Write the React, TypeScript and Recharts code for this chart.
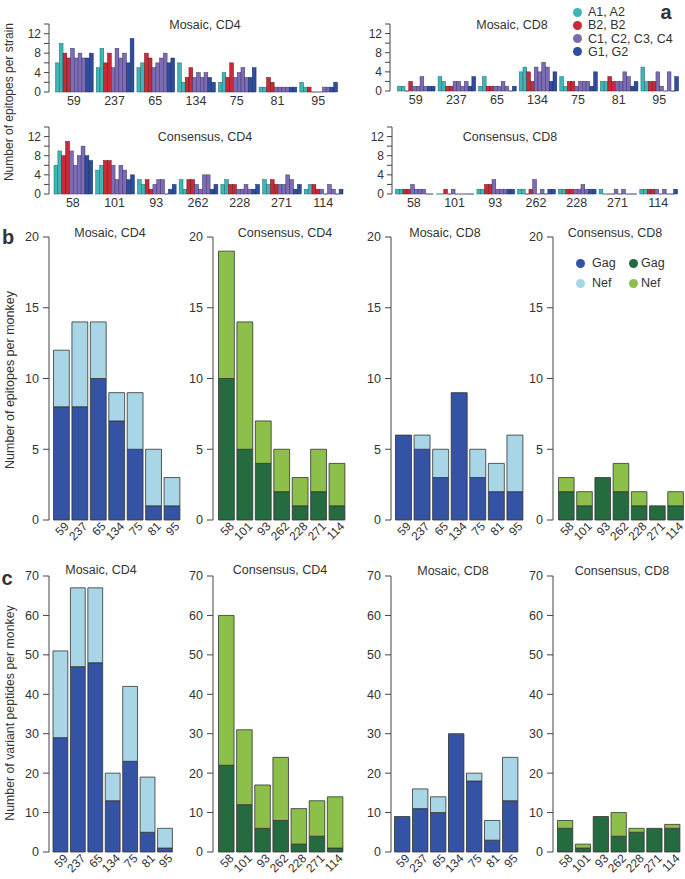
import React from "react";
import { BarChart, Bar, XAxis, YAxis } from "recharts";

const FONT = '"Liberation Sans", Arial, Helvetica, sans-serif';
const INK = "#333";
const AXIS = "#444";

// monkeys per vaccine group
const mosaicMonkeys = ["59", "237", "65", "134", "75", "81", "95"];
const consensusMonkeys = ["58", "101", "93", "262", "228", "271", "114"];

// panel a: epitopes per strain (columns A1 A2 B1 B2 C1 C2 C3 C4 G1 G2, one row per monkey)
const strainKeys = ["A1", "A2", "B1", "B2", "C1", "C2", "C3", "C4", "G1", "G2"];
const strainFills = ["#3fb5b6", "#3fb5b6", "#c82a38", "#c82a38", "#7d6cb4", "#7d6cb4", "#7d6cb4", "#7d6cb4", "#2f4d9f", "#2f4d9f"];
const strainEdges = ["#1d6d70", "#1d6d70", "#6e141c", "#6e141c", "#3f3570", "#3f3570", "#3f3570", "#3f3570", "#1a2b60", "#1a2b60"];
const legendStrainLabels = ["A1, A2", "B2, B2", "C1, C2, C3, C4", "G1, G2"];
const legendStrainColors = ["#3fb5b6", "#c82a38", "#7d6cb4", "#2f4d9f"];

const mosaicCD4Strain = [
  [6, 10, 8, 7, 9, 7, 8, 7, 7, 8],
  [5, 9, 6, 8, 5, 9, 7, 8, 6, 11],
  [5, 6, 8, 7, 5, 6, 7, 8, 6, 7],
  [6, 2, 3, 5, 3, 4, 3, 4, 3, 2],
  [2, 4, 3, 6, 3, 4, 5, 3, 3, 5],
  [1, 1, 3, 2, 1, 1, 1, 1, 1, 1],
  [2, 1, 1, 0, 0, 0, 1, 1, 1, 2],
];
const consensusCD4Strain = [
  [6, 9, 8, 11, 9, 6, 8, 10, 8, 7],
  [5, 6, 7, 7, 6, 3, 6, 5, 3, 4],
  [3, 2, 3, 1, 2, 3, 3, 0, 1, 2],
  [3, 1, 3, 3, 2, 1, 4, 4, 1, 2],
  [2, 3, 2, 2, 1, 1, 2, 1, 1, 2],
  [3, 2, 3, 2, 2, 2, 4, 3, 1, 2],
  [1, 2, 2, 1, 1, 0, 2, 1, 0, 1],
];
const mosaicCD8Strain = [
  [1, 1, 0, 2, 1, 1, 3, 1, 1, 1],
  [3, 2, 1, 1, 2, 2, 1, 2, 1, 3],
  [1, 3, 1, 1, 1, 1, 2, 1, 0, 1],
  [4, 5, 4, 2, 5, 4, 6, 5, 2, 4],
  [3, 1, 2, 2, 1, 2, 2, 2, 1, 4],
  [2, 2, 3, 2, 2, 2, 4, 3, 1, 2],
  [5, 2, 2, 2, 4, 1, 0, 4, 0, 3],
];
const consensusCD8Strain = [
  [1, 1, 1, 1, 2, 1, 1, 1, 0, 0],
  [0, 0, 1, 0, 1, 0, 0, 0, 0, 0],
  [1, 1, 2, 2, 3, 1, 1, 1, 1, 1],
  [1, 1, 0, 1, 3, 0, 1, 0, 1, 1],
  [1, 1, 1, 1, 1, 1, 2, 1, 1, 1],
  [1, 0, 0, 0, 1, 0, 1, 0, 0, 0],
  [1, 1, 1, 1, 1, 0, 1, 0, 0, 1],
];

// panel b: epitopes per monkey
const epiMosaicCD4Gag = [8, 8, 10, 7, 5, 1, 1];
const epiMosaicCD4Nef = [4, 6, 4, 2, 4, 4, 2];
const epiConsensusCD4Gag = [10, 5, 4, 2, 1, 2, 1];
const epiConsensusCD4Nef = [9, 9, 3, 3, 2, 3, 3];
const epiMosaicCD8Gag = [6, 5, 3, 9, 3, 2, 2];
const epiMosaicCD8Nef = [0, 1, 2, 0, 2, 2, 4];
const epiConsensusCD8Gag = [2, 1, 3, 2, 1, 1, 1];
const epiConsensusCD8Nef = [1, 1, 0, 2, 1, 0, 1];

// panel c: variant peptides per monkey
const varMosaicCD4Gag = [29, 47, 48, 13, 23, 5, 1];
const varMosaicCD4Nef = [22, 20, 19, 7, 19, 14, 5];
const varConsensusCD4Gag = [22, 12, 6, 8, 2, 4, 1];
const varConsensusCD4Nef = [38, 19, 11, 16, 9, 9, 13];
const varMosaicCD8Gag = [9, 11, 10, 30, 18, 3, 13];
const varMosaicCD8Nef = [0, 5, 4, 0, 2, 5, 11];
const varConsensusCD8Gag = [6, 1, 9, 4, 5, 6, 6];
const varConsensusCD8Nef = [2, 1, 0, 6, 1, 0, 1];

const strainTicks = [0, 2, 4, 6, 8, 10, 12, 14];
const epitopeTicks = [0, 5, 10, 15, 20];
const variantTicks = [0, 10, 20, 30, 40, 50, 60, 70];

const mosaicColors = ["#3553a4", "#a9d6e6"];
const consensusColors = ["#256b40", "#8cc04b"];

type Box = { axisX: number; bandStart: number; bandEnd: number; yTop: number; yZero: number };

const Y_W = 40;
const TOP = 8;

function frame(box: Box, xH: number) {
  return {
    style: { position: "absolute" as const, left: box.axisX - Y_W, top: box.yTop - TOP },
    width: box.bandEnd - box.axisX + Y_W,
    height: box.yZero - box.yTop + TOP + xH,
    padLeft: box.bandStart - box.axisX,
    band: (box.bandEnd - box.bandStart) / 7,
  };
}

const yTick = { fontSize: 12, fill: INK, fontFamily: FONT };

// zero counts still show as a flat outline on the baseline
const strainShape = (fill: string, edge: string) => (p: any) => {
  let { x, y, width, height } = p;
  if (height < 0) {
    y += height;
    height = -height;
  }
  if (!height) return <line x1={x} x2={x + width} y1={y} y2={y} stroke={edge} strokeWidth={0.9} />;
  return <rect x={x} y={y} width={width} height={height} fill={fill} stroke={edge} strokeWidth={0.5} />;
};

function StrainChart({ monkeys, values, box }: { monkeys: string[]; values: number[][]; box: Box }) {
  const rows = monkeys.map((m, i) => {
    const r: any = { monkey: m };
    strainKeys.forEach((k, j) => (r[k] = values[i][j]));
    return r;
  });
  const f = frame(box, 20);
  const barW = (f.band - 3) / strainKeys.length;
  return (
    <div style={f.style}>
      <BarChart width={f.width} height={f.height} data={rows} margin={{ top: TOP, right: 0, bottom: 0, left: 0 }} barGap={0} barSize={barW}>
        <XAxis
          dataKey="monkey"
          axisLine={false}
          tickLine={false}
          tickSize={0}
          tickMargin={4}
          height={20}
          interval={0}
          padding={{ left: f.padLeft, right: 0 }}
          tick={{ fontSize: 12.5, fill: INK, fontFamily: FONT }}
        />
        <YAxis
          domain={[0, 14]}
          ticks={strainTicks}
          interval={0}
          width={Y_W}
          tickSize={5}
          tickMargin={3}
          stroke={AXIS}
          tick={yTick}
          tickFormatter={(v: number) => (v % 4 === 0 && v < 14 ? String(v) : "")}
        />
        {strainKeys.map((k, j) => (
          <Bar key={k} dataKey={k} barSize={barW} isAnimationActive={false} shape={strainShape(strainFills[j], strainEdges[j])} />
        ))}
      </BarChart>
    </div>
  );
}

function SlantTick(props: any) {
  const { x, y, payload } = props;
  return (
    <g transform={`translate(${x + 5},${y + 4})`}>
      <text transform="rotate(-45)" textAnchor="end" dy="0.35em" fontSize={12} fill={INK} fontFamily={FONT}>
        {payload.value}
      </text>
    </g>
  );
}

function StackChart(props: { monkeys: string[]; gag: number[]; nef: number[]; colors: string[]; ticks: number[]; box: Box }) {
  const { monkeys, gag, nef, colors, ticks, box } = props;
  const rows = monkeys.map((m, i) => ({ monkey: m, gag: gag[i], nef: nef[i] }));
  const f = frame(box, 30);
  const barW = f.band - 2.6;
  return (
    <div style={f.style}>
      <BarChart width={f.width} height={f.height} data={rows} margin={{ top: TOP, right: 0, bottom: 0, left: 0 }} barSize={barW}>
        <XAxis
          dataKey="monkey"
          axisLine={false}
          tickLine={false}
          tickSize={0}
          tickMargin={0}
          height={30}
          interval={0}
          padding={{ left: f.padLeft, right: 0 }}
          tick={<SlantTick />}
        />
        <YAxis
          domain={[0, ticks[ticks.length - 1]]}
          ticks={ticks}
          interval={0}
          width={Y_W}
          tickSize={6}
          tickMargin={4}
          stroke={AXIS}
          tick={{ ...yTick, fontSize: 12.5 }}
        />
        <Bar dataKey="gag" stackId="s" fill={colors[0]} stroke="#333" strokeWidth={0.8} isAnimationActive={false} />
        <Bar dataKey="nef" stackId="s" fill={colors[1]} stroke="#333" strokeWidth={0.8} isAnimationActive={false} />
      </BarChart>
    </div>
  );
}

function Text(props: { x: number; y: number; children: React.ReactNode; size?: number; bold?: boolean; rotate?: number }) {
  const { x, y, children, size = 12.5, bold = false, rotate = 0 } = props;
  return (
    <div
      style={{
        position: "absolute",
        left: x,
        top: y,
        transform: `translate(-50%, -50%) rotate(${rotate}deg)`,
        fontSize: size,
        fontWeight: bold ? 700 : 400,
        fontFamily: FONT,
        color: INK,
        whiteSpace: "nowrap",
        lineHeight: 1,
      }}
    >
      {children}
    </div>
  );
}

function Dot({ x, y, color }: { x: number; y: number; color: string }) {
  return (
    <div style={{ position: "absolute", left: x - 4.5, top: y - 4.5, width: 9, height: 9, borderRadius: "50%", background: color }} />
  );
}

function LeftText({ x, y, children }: { x: number; y: number; children: React.ReactNode }) {
  return (
    <div style={{ position: "absolute", left: x, top: y, transform: "translateY(-50%)", fontSize: 12.5, fontFamily: FONT, color: INK, whiteSpace: "nowrap", lineHeight: 1 }}>
      {children}
    </div>
  );
}

export default function App() {
  const bTop = 237, bZero = 520;
  const cTop = 576, cZero = 852;
  return (
    <div style={{ position: "absolute", left: 0, top: 0, width: 685, height: 879, background: "#fff", overflow: "hidden" }}>
      {/* panel a */}
      <StrainChart monkeys={mosaicMonkeys} values={mosaicCD4Strain} box={{ axisX: 49, bandStart: 53.5, bandEnd: 338.5, yTop: 24, yZero: 92 }} />
      <StrainChart monkeys={consensusMonkeys} values={consensusCD4Strain} box={{ axisX: 49, bandStart: 52, bandEnd: 344, yTop: 127, yZero: 194 }} />
      <StrainChart monkeys={mosaicMonkeys} values={mosaicCD8Strain} box={{ axisX: 390, bandStart: 395.5, bandEnd: 679.5, yTop: 24, yZero: 91 }} />
      <StrainChart monkeys={consensusMonkeys} values={consensusCD8Strain} box={{ axisX: 392, bandStart: 393.5, bandEnd: 678.5, yTop: 127, yZero: 194 }} />
      <Text x={205} y={25}>Mosaic, CD4</Text>
      <Text x={205} y={137}>Consensus, CD4</Text>
      <Text x={512} y={25}>Mosaic, CD8</Text>
      <Text x={510} y={137}>Consensus, CD8</Text>
      <Text x={9} y={102} size={12} rotate={-90}>Number of epitopes per strain</Text>
      {legendStrainLabels.map((l, i) => (
        <React.Fragment key={l}>
          <Dot x={577} y={12 + i * 13.3} color={legendStrainColors[i]} />
          <LeftText x={588} y={12 + i * 13.3}>{l}</LeftText>
        </React.Fragment>
      ))}
      <Text x={666} y={12} size={20} bold>a</Text>

      {/* panel b */}
      <StackChart monkeys={mosaicMonkeys} gag={epiMosaicCD4Gag} nef={epiMosaicCD4Nef} colors={mosaicColors} ticks={epitopeTicks} box={{ axisX: 49, bandStart: 52.5, bandEnd: 181.5, yTop: bTop, yZero: bZero }} />
      <StackChart monkeys={consensusMonkeys} gag={epiConsensusCD4Gag} nef={epiConsensusCD4Nef} colors={consensusColors} ticks={epitopeTicks} box={{ axisX: 213, bandStart: 217.5, bandEnd: 346.5, yTop: bTop, yZero: bZero }} />
      <StackChart monkeys={mosaicMonkeys} gag={epiMosaicCD8Gag} nef={epiMosaicCD8Nef} colors={mosaicColors} ticks={epitopeTicks} box={{ axisX: 391, bandStart: 394.5, bandEnd: 524.5, yTop: bTop, yZero: bZero }} />
      <StackChart monkeys={consensusMonkeys} gag={epiConsensusCD8Gag} nef={epiConsensusCD8Nef} colors={consensusColors} ticks={epitopeTicks} box={{ axisX: 553, bandStart: 557.5, bandEnd: 685, yTop: bTop, yZero: bZero }} />
      <Text x={110} y={233}>Mosaic, CD4</Text>
      <Text x={285} y={233}>Consensus, CD4</Text>
      <Text x={445} y={233}>Mosaic, CD8</Text>
      <Text x={615} y={233}>Consensus, CD8</Text>
      <Text x={10} y={380} size={12.5} rotate={-90}>Number of epitopes per monkey</Text>
      <Dot x={580} y={263} color={mosaicColors[0]} />
      <LeftText x={592} y={263}>Gag</LeftText>
      <Dot x={580} y={283} color={mosaicColors[1]} />
      <LeftText x={592} y={283}>Nef</LeftText>
      <Dot x={633} y={263} color={consensusColors[0]} />
      <LeftText x={641} y={263}>Gag</LeftText>
      <Dot x={633} y={283} color={consensusColors[1]} />
      <LeftText x={641} y={283}>Nef</LeftText>
      <Text x={8} y={237} size={20} bold>b</Text>

      {/* panel c */}
      <StackChart monkeys={mosaicMonkeys} gag={varMosaicCD4Gag} nef={varMosaicCD4Nef} colors={mosaicColors} ticks={variantTicks} box={{ axisX: 49, bandStart: 52, bandEnd: 174, yTop: cTop, yZero: cZero }} />
      <StackChart monkeys={consensusMonkeys} gag={varConsensusCD4Gag} nef={varConsensusCD4Nef} colors={consensusColors} ticks={variantTicks} box={{ axisX: 213, bandStart: 217.5, bandEnd: 344.5, yTop: cTop, yZero: cZero }} />
      <StackChart monkeys={mosaicMonkeys} gag={varMosaicCD8Gag} nef={varMosaicCD8Nef} colors={mosaicColors} ticks={variantTicks} box={{ axisX: 391, bandStart: 393.5, bandEnd: 519.5, yTop: cTop, yZero: cZero }} />
      <StackChart monkeys={consensusMonkeys} gag={varConsensusCD8Gag} nef={varConsensusCD8Nef} colors={consensusColors} ticks={variantTicks} box={{ axisX: 553, bandStart: 556.5, bandEnd: 681.5, yTop: cTop, yZero: cZero }} />
      <Text x={101} y={570}>Mosaic, CD4</Text>
      <Text x={280} y={570}>Consensus, CD4</Text>
      <Text x={453} y={571}>Mosaic, CD8</Text>
      <Text x={622} y={571}>Consensus, CD8</Text>
      <Text x={10} y={713} size={12.3} rotate={-90}>Number of variant peptides per monkey</Text>
      <Text x={7} y={578} size={20} bold>c</Text>
    </div>
  );
}
